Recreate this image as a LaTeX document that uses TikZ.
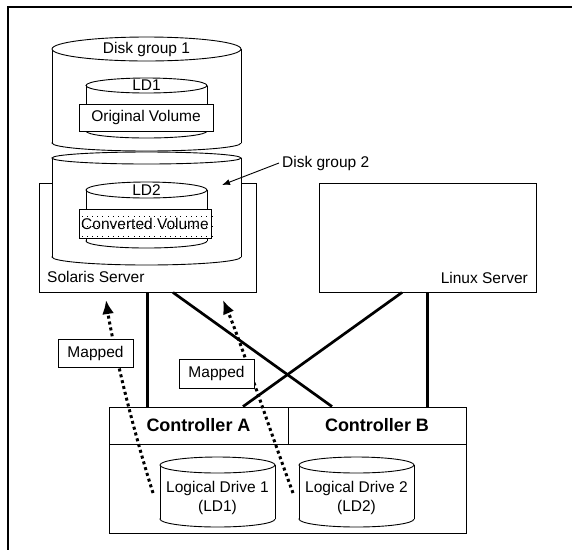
\documentclass[tikz,border=0pt]{standalone}
\usepackage{fontspec}
\setmainfont{Liberation Sans}
\usetikzlibrary{arrows.meta}
\newcommand\mycyl[6]{% left, right, top y, top ry, side bottom y, bottom ry
  \filldraw[thinl,fill=white] ({(#1+#2)/2},#5) ellipse [x radius={(#2-#1)/2}, y radius=#6];
  \fill[white] (#1,#3) rectangle (#2,#5);
  \draw[thinl] (#1,#3) -- (#1,#5) (#2,#3) -- (#2,#5);
  \filldraw[thinl,fill=white] ({(#1+#2)/2},#3) ellipse [x radius={(#2-#1)/2}, y radius=#4];
}
\begin{document}
\begin{tikzpicture}[x=1pt,y=-1pt,
  thinl/.style={line width=0.9pt},
  lbl/.style={font=\fontsize{15.5}{19}\selectfont,inner sep=0pt},
  box/.style={draw,thinl,fill=white,inner sep=0pt,font=\fontsize{15.5}{19}\selectfont},
  ctlcell/.style={draw,thinl,inner sep=0pt,font=\bfseries\fontsize{18}{20}\selectfont},
  conn/.style={line width=2.7pt},
  mapar/.style={line width=3pt,dash pattern=on 3pt off 3pt,-{Latex[length=14pt,width=12pt]}},
  ptr/.style={thinl,-{Latex[length=8pt,width=6pt]}}
]
\useasboundingbox (0,0) rectangle (572,550);
\draw[line width=1.3pt] (572,7) -- (8,7) -- (8,550);

% servers
\node[box,minimum width=217,minimum height=109] (sol) at (147.5,237.5) {};
\node[box,minimum width=217,minimum height=109] (lin) at (427.5,237.5) {};
\node[lbl,anchor=west] (solt) at (47,277) {Solaris Server};
\node[lbl,anchor=east] (lint) at (528,278) {Linux Server};

% disk groups
\mycyl{52}{241}{158}{6}{257}{8}
\mycyl{52}{241}{49}{12}{143}{8}
\node[lbl] (dg1) at (146.5,49) {Disk group 1};
\mycyl{86}{207}{85.5}{7.5}{131}{7}
\node[lbl] (ld1t) at (146.5,85.5) {LD1};
\node[box,minimum width=134,minimum height=27] (ov) at (146,117.5) {Original Volume};
\mycyl{86}{207}{190}{8}{241}{7}
\node[lbl] (ld2t) at (146.5,190) {LD2};
\fill[white] (79,209) rectangle (211,238);
\foreach \i in {0,...,25}{\foreach \j in {215.5,226,236}{\fill (81.5+\i*5.2,\j) rectangle ++(1.1,1.1);}}
\node[box,fill=none,minimum width=132,minimum height=29] (cv) at (145,223.5) {Converted Volume};

\node[lbl,anchor=west] (dg2) at (282,163) {Disk group 2};
\coordinate (dg2tip) at (222,185);
\draw[ptr] ([xshift=-3]dg2.west) -- (dg2tip);

% controller
\node[draw,thinl,fill=white,minimum width=357,minimum height=126] (ctl) at (287.5,470) {};
\node[ctlcell,minimum width=179,minimum height=37] (ca) at (198.5,425.5) {Controller A};
\node[ctlcell,minimum width=178,minimum height=37] (cb) at (377,425.5) {Controller B};

% connectors
\draw[conn] (sol.south) -- (sol.south |- ca.north);
\draw[conn] ([xshift=25.5]sol.south) -- ([xshift=-45]cb.north);
\draw[conn] ([xshift=-25.5]lin.south) -- ([xshift=44.5]ca.north);
\draw[conn] (lin.south) -- (lin.south |- cb.north);

% logical drives
\mycyl{160}{275}{465}{8}{519}{8}
\node[lbl,align=center] (ldr1) at (217.5,497.5) {Logical Drive 1\\(LD1)};
\mycyl{299}{414}{465}{8}{519}{8}
\node[lbl,align=center] (ldr2) at (356.5,497.5) {Logical Drive 2\\(LD2)};

% mapped arrows
\coordinate (a1s) at (153,493);
\coordinate (a1e) at (106,300);
\draw[mapar] (a1s) .. controls (130,420) and (112,340) .. (a1e);
\coordinate (a2s) at (293,493);
\coordinate (a2e) at (223,300);
\draw[mapar] (a2s) .. controls (268,425) and (240,340) .. (a2e);
\node[box,minimum width=75,minimum height=28] (m1) at (95.5,353) {Mapped};
\node[box,minimum width=75,minimum height=29] (m2) at (216.5,373.5) {Mapped};
\end{tikzpicture}
\end{document}
